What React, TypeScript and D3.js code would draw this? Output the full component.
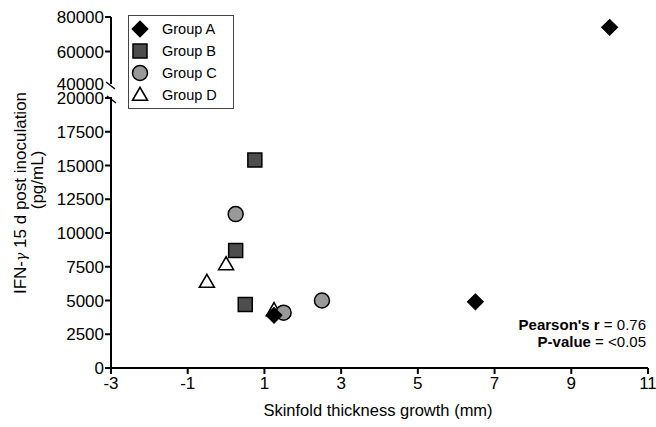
import React from "react";
import * as d3 from "d3";

const groupNames = ["Group A", "Group B", "Group C", "Group D"];
const groupAX = [10, 6.5, 1.25];
const groupAY = [74000, 4900, 3900];
const groupBX = [0.75, 0.25, 0.5];
const groupBY = [15400, 8700, 4700];
const groupCX = [0.25, 1.5, 2.5];
const groupCY = [11400, 4100, 5000];
const groupDX = [-0.5, 0, 1.25];
const groupDY = [6300, 7600, 4200];

const xTicks = [-3, -1, 1, 3, 5, 7, 9, 11];
const yLowTicks = [0, 2500, 5000, 7500, 10000, 12500, 15000, 17500, 20000];
const yHighTicks = [40000, 60000, 80000];

const FONT = "Liberation Sans, Arial, Helvetica, sans-serif";

export default function App() {
  const x = d3.scaleLinear().domain([-3, 11]).range([111, 648]);
  const yLow = d3.scaleLinear().domain([0, 20000]).range([368, 98]);
  const yHigh = d3.scaleLinear().domain([40000, 80000]).range([86, 17]);
  const y = (v: number) => (v > 30000 ? yHigh(v) : yLow(v));

  const sq = d3.symbol().type(d3.symbolSquare).size(196)()!;
  const dia = d3.symbol().type(d3.symbolSquare).size(128)()!;
  const circ = d3.symbol().type(d3.symbolCircle).size(177)()!;
  const tri = d3.symbol().type(d3.symbolTriangle).size(97)()!;

  const styles = [
    { path: dia, fill: "#000", rot: 45, sw: 1 },
    { path: sq, fill: "#4d4d4d", rot: 0, sw: 1.5 },
    { path: circ, fill: "#999999", rot: 0, sw: 1.5 },
    { path: tri, fill: "#ffffff", rot: 0, sw: 1.6 },
  ];
  const groups = [
    { xs: groupAX, ys: groupAY },
    { xs: groupBX, ys: groupBY },
    { xs: groupCX, ys: groupCY },
    { xs: groupDX, ys: groupDY },
  ];
  const drawOrder = [3, 2, 1, 0];

  const ax = x(-3);
  const y0 = yLow(0);
  const breakHi = yHigh(40000);
  const breakLo = yLow(20000);

  return (
    <svg
      width={656}
      height={427}
      style={{ position: "absolute", left: 0, top: 0, background: "#fff" }}
      fontFamily={FONT}
    >
      <rect x={0} y={0} width={656} height={427} fill="#fff" />
      {/* axes */}
      <line x1={ax} x2={x(11)} y1={y0} y2={y0} stroke="#000" strokeWidth={2} />
      <line x1={ax} x2={ax} y1={y0} y2={breakLo - 1} stroke="#000" strokeWidth={2} />
      <line x1={ax} x2={ax} y1={yHigh(80000)} y2={breakHi - 2} stroke="#000" strokeWidth={2} />
      <line x1={ax - 5} x2={ax + 4} y1={breakHi - 4} y2={breakHi + 3} stroke="#000" strokeWidth={1.5} />
      <line x1={ax - 4} x2={ax + 5} y1={breakLo - 2} y2={breakLo + 5} stroke="#000" strokeWidth={1.5} />

      {xTicks.map((t) => (
        <g key={"x" + t}>
          <line x1={x(t)} x2={x(t)} y1={y0} y2={y0 + 6} stroke="#000" strokeWidth={2} />
          <text x={x(t)} y={389} textAnchor="middle" fontSize={17} fill="#000">
            {t}
          </text>
        </g>
      ))}
      {yLowTicks.map((t) => (
        <g key={"yl" + t}>
          <line x1={ax - 6} x2={ax} y1={yLow(t)} y2={yLow(t)} stroke="#000" strokeWidth={2} />
          <text x={ax - 7} y={yLow(t)} dy="0.36em" textAnchor="end" fontSize={17} fill="#000">
            {t}
          </text>
        </g>
      ))}
      {yHighTicks.map((t) => (
        <g key={"yh" + t}>
          {t !== 40000 && (
            <line x1={ax - 6} x2={ax} y1={yHigh(t)} y2={yHigh(t)} stroke="#000" strokeWidth={2} />
          )}
          <text x={ax - 7} y={yHigh(t) - (t === 40000 ? 2 : 0)} dy="0.36em" textAnchor="end" fontSize={17} fill="#000">
            {t}
          </text>
        </g>
      ))}

      {/* axis titles */}
      <text x={378} y={416} textAnchor="middle" fontSize={16.5} fill="#000">
        Skinfold thickness growth (mm)
      </text>
      <text transform="translate(25.5,193) rotate(-90)" textAnchor="middle" fontSize={17} fill="#000">
        IFN-<tspan fontStyle="italic" fontFamily="DejaVu Serif, serif" fontSize={14}>γ</tspan> 15 d post inoculation
      </text>
      <text transform="translate(43,180) rotate(-90)" textAnchor="middle" fontSize={17} fill="#000">
        (pg/mL)
      </text>

      {/* points */}
      {drawOrder.map((gi) =>
        groups[gi].xs.map((xv, i) => (
          <path
            key={gi + "-" + i}
            d={styles[gi].path}
            transform={`translate(${x(xv)},${y(groups[gi].ys[i])}) rotate(${styles[gi].rot})`}
            fill={styles[gi].fill}
            stroke="#000"
            strokeWidth={styles[gi].sw}
            strokeLinejoin="miter"
          />
        ))
      )}

      {/* legend */}
      <rect x={128.5} y={15.5} width={105} height={93} fill="#fff" stroke="#444" strokeWidth={1} />
      {groupNames.map((name, i) => {
        const ly = 29 + i * 22;
        return (
          <g key={name}>
            <path
              d={styles[i].path}
              transform={`translate(140,${ly + (i === 3 ? 1 : 0)}) rotate(${styles[i].rot})`}
              fill={styles[i].fill}
              stroke="#000"
              strokeWidth={styles[i].sw}
            />
            <text x={162} y={ly} dy="0.36em" fontSize={14.5} fill="#000">
              {name}
            </text>
          </g>
        );
      })}

      {/* stats */}
      <text x={646} y={330} textAnchor="end" fontSize={15} fill="#000">
        <tspan fontWeight="bold">Pearson's r</tspan> = 0.76
      </text>
      <text x={646} y={347} textAnchor="end" fontSize={15} fill="#000">
        <tspan fontWeight="bold">P-value</tspan> = &lt;0.05
      </text>
    </svg>
  );
}
